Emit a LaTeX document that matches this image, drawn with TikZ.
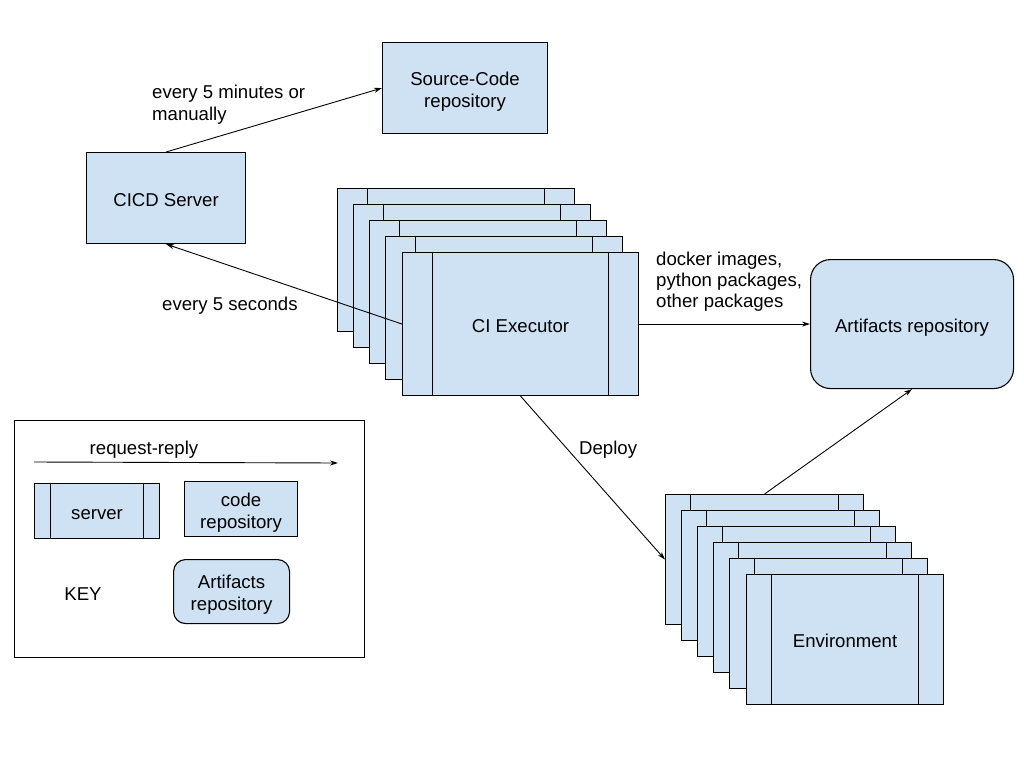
\documentclass[tikz,border=0pt]{standalone}
\usepackage{fontspec}
\setmainfont{Liberation Sans}
\usetikzlibrary{arrows.meta}
\definecolor{boxblue}{RGB}{207,226,243}
\newcommand\lbl{\fontsize{18.6}{22}\selectfont}
% invisible rules that give box text an even top and bottom
\newcommand\topstrut{\rule{0pt}{20pt}}
\newcommand\botstrut{\rule[-4pt]{0pt}{4pt}}
\begin{document}
\begin{tikzpicture}[x=1pt,y=-1pt,
  box/.style={draw, fill=boxblue, line width=1.1pt, inner sep=0pt, align=center, font=\lbl},
  srv/.style={box, path picture={
    \draw[line width=1.1pt]
      ([xshift=#1]path picture bounding box.north west) -- ([xshift=#1]path picture bounding box.south west)
      ([xshift=-#1]path picture bounding box.north east) -- ([xshift=-#1]path picture bounding box.south east);}},
  cistack/.style={srv=30pt, minimum width=237pt, minimum height=143pt, anchor=north west},
  envstack/.style={srv=25pt, minimum width=198pt, minimum height=130pt, anchor=north west},
  repo/.style={box, anchor=north west},
  artbox/.style={box, rounded corners=#1, anchor=north west},
  lbltext/.style={font=\lbl, inner sep=0pt, align=left},
  arr/.style={-{Stealth[length=8pt,width=5pt]}, line width=0.9pt},
]
\useasboundingbox (0,0) rectangle (1024,768);

% main repositories and server
\node[repo, minimum width=165pt, minimum height=91pt] (src) at (382,42) {\topstrut Source-Code\\repository\botstrut};
\node[repo, minimum width=159pt, minimum height=91pt] (cicd) at (86,152) {\topstrut CICD Server\botstrut};
\node[artbox=20pt, minimum width=203pt, minimum height=129pt] (art) at (810,259) {\topstrut Artifacts repository\botstrut};

% stack of CI executors, back to front
\foreach \i in {0,...,3}
  \node[cistack] (ci\i) at ({337+16*\i},{188+16*\i}) {};
\node[cistack, minimum width=236pt] (executor) at (402,252) {\topstrut CI Executor\botstrut};

% stack of environments, back to front
\foreach \i in {0,...,4}
  \node[envstack] (env\i) at ({665+16*\i},{494+16*\i}) {};
\node[envstack, minimum width=197pt] (envfront) at (746,574) {\topstrut Environment\botstrut};

% connectors
\draw[arr] (cicd.north) -- (src.west);
\draw[arr] (executor.west) -- (cicd.south);
\draw[arr] (executor.east) -- (art.west);
\draw[arr] (executor.south) -- (env0.west);
\draw[arr] (env0.north) -- (art.south);

% connector labels
\node[lbltext, anchor=base west] (lmin) at (152,98) {every 5 minutes or};
\node[lbltext, anchor=base west] (lman) at (152,120) {manually};
\node[lbltext, anchor=base west] (lsec) at (162,310) {every 5 seconds};
\node[lbltext, anchor=base west] (ldock) at (656,265) {docker images,};
\node[lbltext, anchor=base west] (lpy) at (656,286) {python packages,};
\node[lbltext, anchor=base west] (loth) at (656,307) {other packages};
\node[lbltext, anchor=base west] (ldep) at (579,454) {Deploy};

% key
\node[draw, line width=1.1pt, minimum width=350pt, minimum height=237pt, anchor=north west, inner sep=0pt] (key) at (14,420) {};
\coordinate (rrA) at (34,462);
\coordinate (rrB) at (338,463);
\draw[arr] (rrA) -- (rrB);
\node[lbltext, anchor=base] (lrr) at (144,454) {request-reply};
\node[srv=16pt, minimum width=125pt, minimum height=55pt, anchor=north west] (kserver) at (34,483) {\topstrut server\botstrut};
\node[repo, minimum width=113pt, minimum height=55pt] (kcode) at (184,481) {\topstrut code\\repository\botstrut};
\node[artbox=12pt, minimum width=116pt, minimum height=64pt] (kart) at (173,559) {\topstrut Artifacts\\repository\botstrut};
\node[lbltext] (keylabel) at (83,594) {KEY};
\end{tikzpicture}
\end{document}
